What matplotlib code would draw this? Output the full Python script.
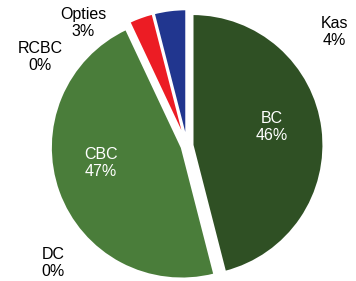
import matplotlib.pyplot as plt

# data
categories = ['BC', 'DC', 'CBC', 'RCBC', 'Opties', 'Kas']
values = [46, 0, 47, 0, 3, 4]
colors = ['#2f5024', '#4a7d3a', '#4a7d3a', '#4a7d3a', '#ec1c24', '#21368f']
text_colors = ['white', 'black', 'white', 'black', 'black', 'black']

# label spots (pixels from top-left)
label_pos = [(272, 127), (53, 263), (101, 163), (40, 57), (83, 23), (334, 32)]

plt.rcParams['font.family'] = ['Liberation Sans', 'DejaVu Sans']

fig = plt.figure(figsize=(3.56, 2.81), dpi=100)
ax = fig.add_axes([0, 0, 1, 1])

ax.pie(values, colors=colors, startangle=90, counterclock=False,
       center=(187, 281 - 145.7), radius=131, explode=[5.5] * len(values),
       wedgeprops=dict(edgecolor='white', linewidth=1.5), frame=True)
ax.set_xlim(0, 356)
ax.set_ylim(0, 281)
ax.axis('off')

total = sum(values)
for name, v, (x, y), c in zip(categories, values, label_pos, text_colors):
    ax.text(x, 281 - y, f'{name}\n{round(100 * v / total)}%', ha='center', va='center',
            fontsize=11.5, color=c, linespacing=1.2)

fig.savefig('out.png', dpi=100)
